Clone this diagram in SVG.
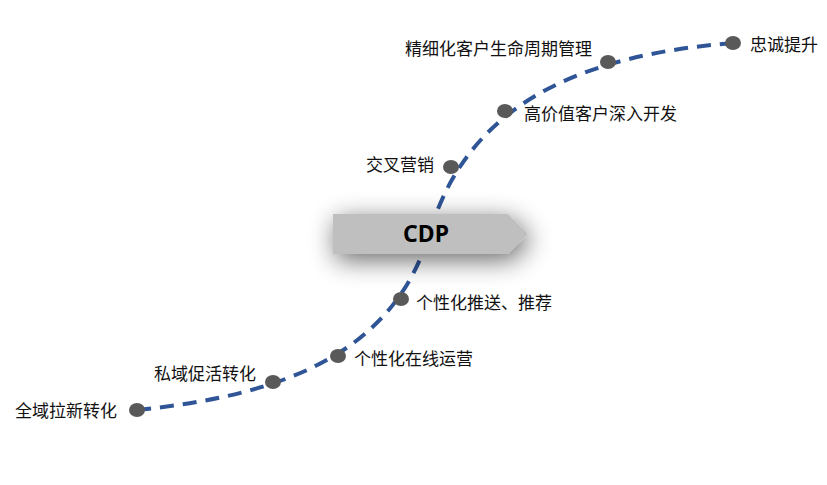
<svg xmlns="http://www.w3.org/2000/svg" width="827" height="485" viewBox="0 0 827 485">
<style>
.lbl{font-family:"Noto Sans CJK SC","Microsoft YaHei",sans-serif;font-size:17px;fill:#111}
.dot{fill:#595959}
.curve{fill:none;stroke:#2F5597;stroke-width:4;stroke-dasharray:14 9}
.cdp{font-family:"Noto Sans","Liberation Sans",sans-serif;font-size:23px;font-weight:bold;fill:#000}
</style>
<defs>
<filter id="shadow" x="-40%" y="-150%" width="180%" height="400%">
<feGaussianBlur in="SourceAlpha" stdDeviation="13"/>
<feOffset dx="3" dy="6" result="b"/>
<feComponentTransfer><feFuncA type="linear" slope="0.6"/></feComponentTransfer>
<feMerge><feMergeNode/><feMergeNode in="SourceGraphic"/></feMerge>
</filter>
</defs>
<rect width="827" height="485" fill="#fff"/>
<g id="connectors">
<path class="curve" d="M137,410 C287,395 394,352 430,232 C469,102 583,55 733,43"/>
</g>
<g id="cdp">
<polygon points="333,214 508,214 528,234 508,254 333,254" fill="#BFBFBF" filter="url(#shadow)"/>
<text class="cdp" x="426" y="242" text-anchor="middle">CDP</text>
</g>
<g id="n1"><ellipse class="dot" cx="137" cy="410" rx="8" ry="7"/><text class="lbl" x="15" y="416.5">全域拉新转化</text></g>
<g id="n2"><ellipse class="dot" cx="273" cy="382" rx="8" ry="7"/><text class="lbl" x="154" y="379.5">私域促活转化</text></g>
<g id="n3"><ellipse class="dot" cx="338" cy="356" rx="8" ry="7"/><text class="lbl" x="354" y="364.5">个性化在线运营</text></g>
<g id="n4"><ellipse class="dot" cx="401" cy="299" rx="8" ry="7"/><text class="lbl" x="416" y="309">个性化推送、推荐</text></g>
<g id="n5"><ellipse class="dot" cx="451" cy="167" rx="8" ry="7"/><text class="lbl" x="366" y="171">交叉营销</text></g>
<g id="n6"><ellipse class="dot" cx="505" cy="111" rx="8" ry="7"/><text class="lbl" x="524" y="119.5">高价值客户深入开发</text></g>
<g id="n7"><ellipse class="dot" cx="608" cy="62" rx="8" ry="7"/><text class="lbl" x="405" y="54.5">精细化客户生命周期管理</text></g>
<g id="n8"><ellipse class="dot" cx="733" cy="43" rx="8" ry="7"/><text class="lbl" x="750" y="51">忠诚提升</text></g>
</svg>
